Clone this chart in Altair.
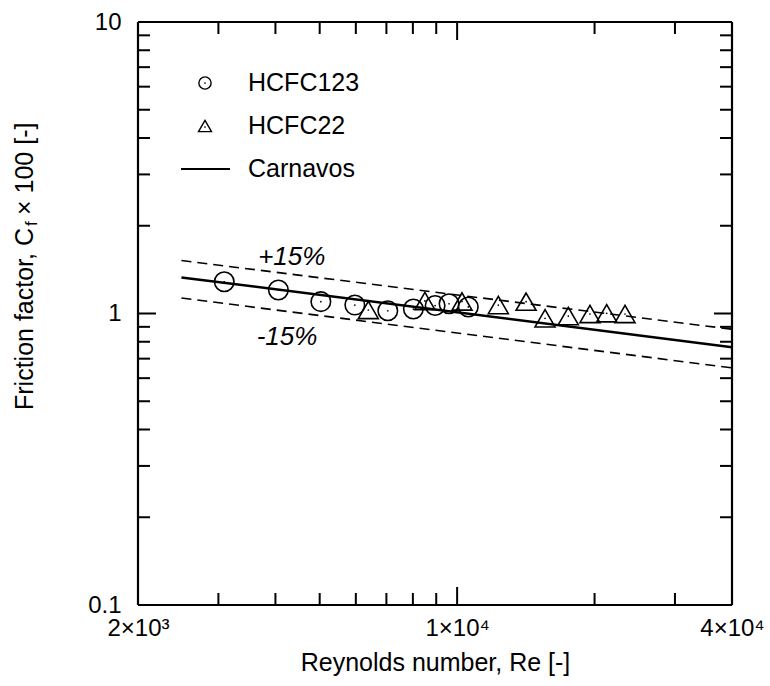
import altair as alt
import pandas as pd

FONT = "Liberation Sans"

# ---- data ----
hcfc123_re = [3090, 4060, 5030, 5970, 7050, 8020, 8950, 9600, 10580]
hcfc123_cf = [1.285, 1.204, 1.098, 1.069, 1.022, 1.036, 1.065, 1.080, 1.053]

hcfc22_re = [6390, 8500, 10250, 12310, 14160, 15580, 17520, 19540, 21260, 23320]
hcfc22_cf = [1.028, 1.104, 1.100, 1.069, 1.098, 0.963, 0.980, 0.996, 1.002, 0.996]

line_re = [2490, 40000]
carnavos_cf = [1.33, 0.766]
plus15_cf = [1.52, 0.883]
minus15_cf = [1.13, 0.651]

band_labels = ["+15%", "-15%"]
band_label_re = [4343, 4241]
band_label_cf = [1.566, 0.832]

x_label_values = [2000, 10000, 40000]
y_label_values = [0.1, 1, 10]
x_minor = [3000, 4000, 5000, 6000, 7000, 8000, 9000, 20000, 30000]
x_major = [10000]
y_minor = [0.2, 0.3, 0.4, 0.5, 0.6, 0.7, 0.8, 0.9, 2, 3, 4, 5, 6, 7, 8, 9]
y_major = [1]

legend_names = ["HCFC123", "HCFC22", "Carnavos"]

W, H = 594, 583
MAJ, MIN = 18, 12

xs = alt.Scale(type="log", domain=[2000, 40000], nice=False)
ys = alt.Scale(type="log", domain=[0.1, 10], nice=False)

xaxis = alt.Axis(
    values=x_label_values,
    labelExpr="datum.value < 5000 ? '2×10³' : datum.value < 20000 ? '1×10⁴' : '4×10⁴'",
    ticks=False, domain=False, grid=False, labelFlush=False,
    labelFont=FONT, labelFontSize=24, labelColor="black", labelPadding=11,
    title="Reynolds number, Re [-]", titleFont=FONT, titleFontSize=25,
    titleFontWeight="normal", titleColor="black", titlePadding=10,
)
yaxis = alt.Axis(
    values=y_label_values,
    labelExpr="datum.value < 0.5 ? '0.1' : datum.value < 5 ? '1' : '10'",
    ticks=False, domain=False, grid=False, labelFlush=False,
    labelFont=FONT, labelFontSize=24, labelColor="black", labelPadding=17,
    title=None,
)

X = alt.X("re:Q", scale=xs, axis=xaxis)
Y = alt.Y("cf:Q", scale=ys, axis=yaxis)

df123 = pd.DataFrame({"re": hcfc123_re, "cf": hcfc123_cf})
df22 = pd.DataFrame({"re": hcfc22_re, "cf": hcfc22_cf})
dfl = pd.DataFrame({"re": line_re, "c": carnavos_cf, "p": plus15_cf, "m": minus15_cf})
dflab = pd.DataFrame({"re": band_label_re, "cf": band_label_cf, "t": band_labels})

layers = []

layers.append(alt.Chart(dfl).mark_line(color="black", strokeWidth=2.5).encode(
    x=X, y=alt.Y("c:Q", scale=ys, axis=yaxis)))
layers.append(alt.Chart(dfl).mark_line(color="black", strokeWidth=1.6, strokeDash=[10, 6]).encode(
    x=X, y=alt.Y("p:Q", scale=ys, axis=yaxis)))
layers.append(alt.Chart(dfl).mark_line(color="black", strokeWidth=1.6, strokeDash=[10, 6]).encode(
    x=X, y=alt.Y("m:Q", scale=ys, axis=yaxis)))

layers.append(alt.Chart(df123).mark_point(shape="circle", size=380, filled=False,
                                          stroke="black", strokeWidth=1.6, opacity=1).encode(x=X, y=Y))
layers.append(alt.Chart(df22).mark_point(shape="triangle-up", size=400, filled=False,
                                         stroke="black", strokeWidth=1.6, opacity=1).encode(x=X, y=Y))
for d in (df123, df22):
    layers.append(alt.Chart(d).mark_circle(size=3, color="black", opacity=1).encode(x=X, y=Y))

layers.append(alt.Chart(dflab).mark_text(font=FONT, fontSize=26, fontStyle="italic",
                                         color="black").encode(x=X, y=Y, text="t:N"))

# frame
one = pd.DataFrame({"a": [0]})
for spec in ({"x": 0, "x2": W, "y": 0}, {"x": 0, "x2": W, "y": H}):
    layers.append(alt.Chart(one).mark_rule(color="black", strokeWidth=2.2).encode(
        x=alt.value(spec["x"]), x2=alt.value(spec["x2"]), y=alt.value(spec["y"])))
for xx in (0, W):
    layers.append(alt.Chart(one).mark_rule(color="black", strokeWidth=2.2).encode(
        x=alt.value(xx), y=alt.value(0), y2=alt.value(H)))

# inward ticks on all four sides
def tick_layers(vals, length):
    dx = pd.DataFrame({"re": vals})
    return [
        alt.Chart(dx).mark_rule(color="black", strokeWidth=2).encode(
            x=X, y=alt.value(H), y2=alt.value(H - length)),
        alt.Chart(dx).mark_rule(color="black", strokeWidth=2).encode(
            x=X, y=alt.value(0), y2=alt.value(length)),
    ]

def ytick_layers(vals, length):
    dy = pd.DataFrame({"cf": vals})
    return [
        alt.Chart(dy).mark_rule(color="black", strokeWidth=2).encode(
            y=Y, x=alt.value(0), x2=alt.value(length)),
        alt.Chart(dy).mark_rule(color="black", strokeWidth=2).encode(
            y=Y, x=alt.value(W), x2=alt.value(W - length)),
    ]

layers += tick_layers(x_minor, MIN) + tick_layers(x_major, MAJ)
layers += ytick_layers(y_minor, MIN) + ytick_layers(y_major, MAJ)

# manual legend
LX, TX = 67, 110
LY = [61, 104, 147]
layers.append(alt.Chart(one).mark_point(shape="circle", size=150, filled=False, stroke="black",
                                        strokeWidth=1.4, opacity=1).encode(x=alt.value(LX), y=alt.value(LY[0])))
layers.append(alt.Chart(one).mark_point(shape="triangle-up", size=170, filled=False, stroke="black",
                                        strokeWidth=1.4, opacity=1).encode(x=alt.value(LX), y=alt.value(LY[1])))
layers.append(alt.Chart(one).mark_circle(size=3, color="black", opacity=1).encode(
    x=alt.value(LX), y=alt.value(LY[0])))
layers.append(alt.Chart(one).mark_circle(size=3, color="black", opacity=1).encode(
    x=alt.value(LX), y=alt.value(LY[1] + 1)))
layers.append(alt.Chart(one).mark_rule(color="black", strokeWidth=2).encode(
    x=alt.value(43), x2=alt.value(92), y=alt.value(LY[2])))
for name, yy in zip(legend_names, LY):
    layers.append(alt.Chart(one).mark_text(text=name, font=FONT, fontSize=25, align="left",
                                           baseline="middle", color="black").encode(
        x=alt.value(TX), y=alt.value(yy)))

# y-axis title with subscript f
layers.append(alt.Chart(one).mark_text(text="Friction factor, C", font=FONT, fontSize=25, angle=270,
                                       align="left", baseline="middle", color="black").encode(
    x=alt.value(-113), y=alt.value(388)))
layers.append(alt.Chart(one).mark_text(text="f", font=FONT, fontSize=17, angle=270,
                                       align="left", baseline="middle", color="black").encode(
    x=alt.value(-106), y=alt.value(204)))
layers.append(alt.Chart(one).mark_text(text="× 100 [-]", font=FONT, fontSize=25, angle=270,
                                       align="left", baseline="middle", color="black").encode(
    x=alt.value(-113), y=alt.value(193)))

chart = alt.layer(*layers).properties(
    width=W, height=H,
    autosize=alt.AutoSizeParams(type="none"),
    padding={"left": 138, "top": 22, "right": 38, "bottom": 81},
).configure_view(stroke=None).configure(background="white")

chart.save("out.html", embed_options={"renderer": "svg", "actions": False})
